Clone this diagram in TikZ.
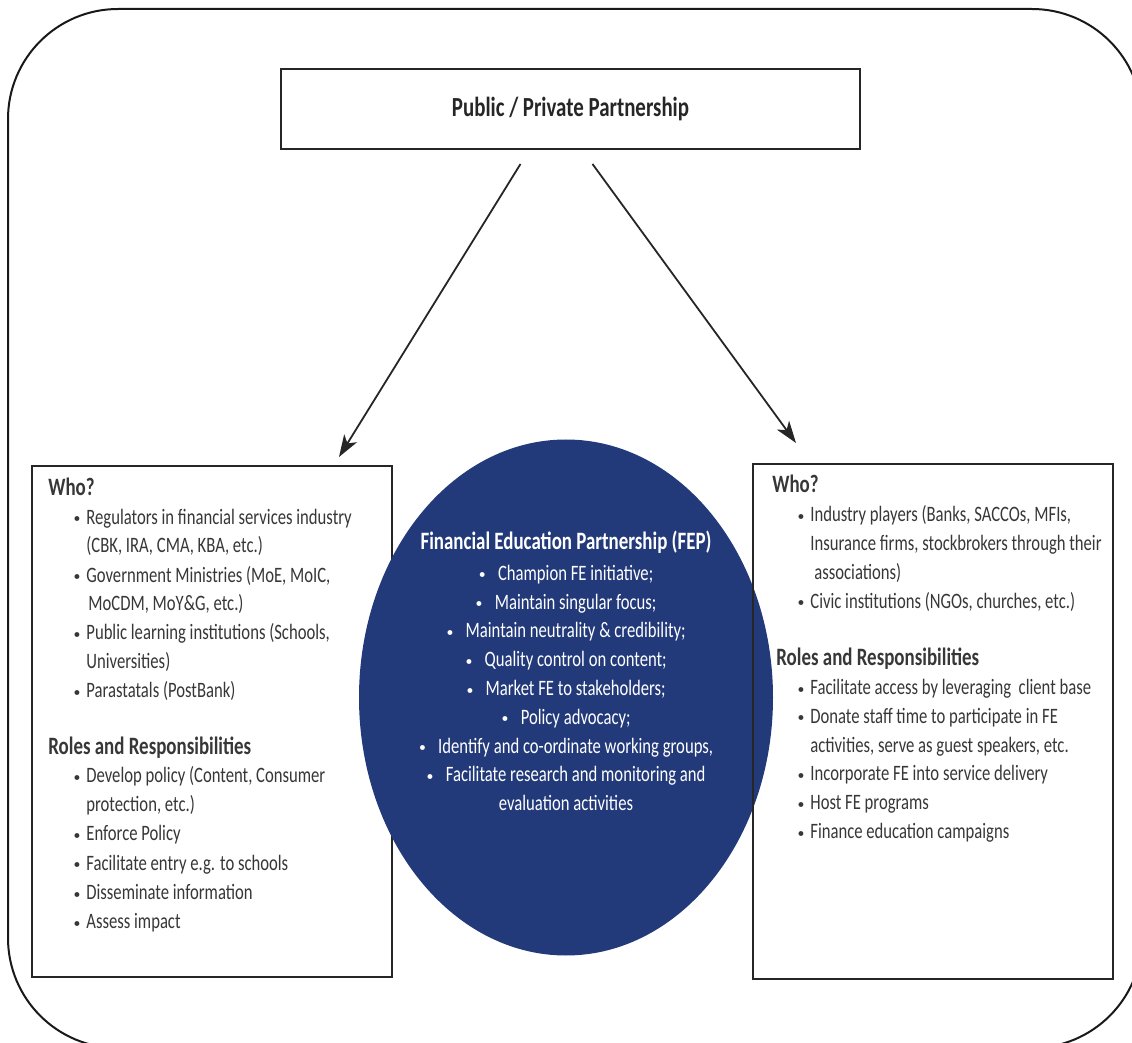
\documentclass[tikz,border=0pt]{standalone}
\usepackage{fontspec}
\setmainfont{Carlito}[FakeStretch=0.757]
\usetikzlibrary{shapes.geometric, arrows.meta}
\definecolor{fepblue}{RGB}{35,58,122}
\definecolor{inkgray}{RGB}{55,55,55}
\tikzstyle{box} = [rectangle, 
draw=black!85, 
line width=1pt, 
fill=white]
\tikzstyle{list} = [anchor=north west, 
align=left, 
inner sep=0pt, 
text=inkgray, 
font=\fontsize{11}{14.2}\selectfont]
\tikzstyle{fep} = [ellipse, 
minimum width=207pt, 
minimum height=258pt, 
inner sep=0pt, 
fill=fepblue]
\tikzstyle{link} = [-{Stealth[length=11pt, width=7.5pt, inset=3pt]}, 
line width=0.9pt, 
draw=black!85]
\newcommand{\itm}{\hspace*{12.5pt}\makebox[6.5pt][l]{\raisebox{1.2pt}{\tiny$\bullet$}}}
\newcommand{\cnt}{\hspace*{19pt}}
\newcommand{\cb}{\raisebox{1.2pt}{\tiny$\bullet$}\hspace{6pt}}
\newcommand{\hd}[1]{{\fontsize{12.5}{14.2}\selectfont\bfseries #1}}

\begin{document}
\begin{tikzpicture}[x=0.5pt, y=-0.5pt]
\useasboundingbox (0,0) rectangle (1132,1043);
\draw [line width=1pt, draw=black!90, rounded corners=55pt] (8,9) rectangle (1142,1048);

\node (title) [box, minimum width=289.5pt, minimum height=40pt, text=black!85, font=\fontsize{13.8}{14}\selectfont\bfseries] at (570.5,109) {Public / Private Partnership};
\node (leftbox) [box, minimum width=180pt, minimum height=255.5pt] at (212,721.5) {};
\node (fepcore) [fep] at (566,697.5) {};
\node (rightbox) [box, fill=none, minimum width=180pt, minimum height=257.5pt] at (933,721.5) {};

\node (wholeft) [list] at (48,478) {\hd{Who?}\\
\itm Regulators in financial services industry\\
\cnt (CBK, IRA, CMA, KBA, etc.)\\[0.5pt]
\itm Government Ministries (MoE, MoIC,\\
\cnt\hspace{1pt}MoCDM, MoY\&G, etc.)\\[0.5pt]
\itm Public learning institutions (Schools,\\
\cnt Universities)\\[0.5pt]
\itm Parastatals (PostBank)\\[14.2pt]
\hd{Roles and Responsibilities}\\
\itm Develop policy (Content, Consumer\\
\cnt protection, etc.)\\[0.5pt]
\itm Enforce Policy\\[0.5pt]
\itm Facilitate entry e.g. to schools\\[0.5pt]
\itm Disseminate information\\[0.5pt]
\itm Assess impact};

\node (whoright) [list, font=\fontsize{11}{14.4}\selectfont] at (772,475) {\hd{Who?}\\
\itm Industry players (Banks, SACCOs, MFIs,\\
\cnt Insurance firms, stockbrokers through their\\
\cnt\hspace{2pt}associations)\\
\itm Civic institutions (NGOs, churches, etc.)\\[14.4pt]
\hspace*{2pt}\hd{Roles and Responsibilities}\\
\itm Facilitate access by leveraging\ \ client base\\
\itm Donate staff time to participate in FE\\
\cnt activities, serve as guest speakers, etc.\\
\itm Incorporate FE into service delivery\\
\itm Host FE programs\\
\itm Finance education campaigns};

\node (feptext) [align=center, text=white, inner sep=0pt, font=\fontsize{11}{14.4}\selectfont] at (566,671) {\hd{Financial Education Partnership (FEP)}\\[1pt]
\cb Champion FE initiative;\\
\cb Maintain singular focus;\\
\cb Maintain neutrality \& credibility;\\
\cb Quality control on content;\\
\cb Market FE to stakeholders;\\
\cb Policy advocacy;\\
\cb Identify and co-ordinate working groups,\\
\cb Facilitate research and monitoring and\\
evaluation activities};

\draw [link] ([xshift=-25pt, yshift=-7pt]title.south) -- ([xshift=63.5pt, yshift=4pt]leftbox.north);
\draw [link] ([xshift=11pt, yshift=-7pt]title.south) -- ([xshift=-68.5pt, yshift=10pt]rightbox.north);
\end{tikzpicture}
\end{document}
